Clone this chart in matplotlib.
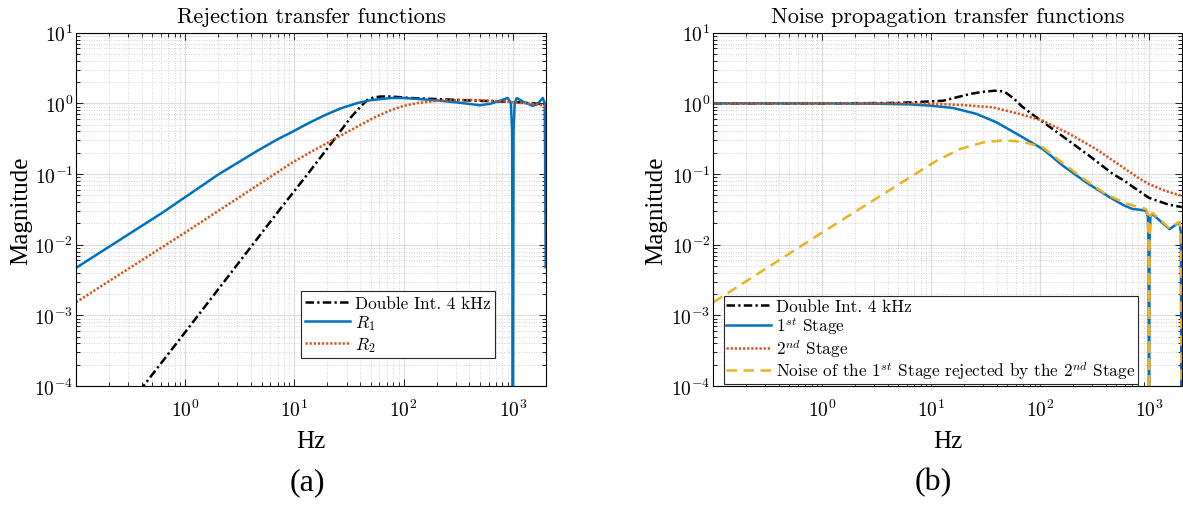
import numpy as np
import matplotlib
matplotlib.use('Agg')
import matplotlib.pyplot as plt
from matplotlib.ticker import LogLocator, NullFormatter, FixedLocator

plt.rcParams['font.family'] = 'cmr10'
plt.rcParams['mathtext.fontset'] = 'cm'
plt.rcParams['axes.formatter.use_mathtext'] = True

# ---------------- data ----------------
# (a) Rejection transfer functions
freq_dbl_a = [0.1, 1.0, 7.4, 9.3, 14.0, 23.0, 32.7, 40.0, 46.6, 53.0, 61.5, 76.0, 95.0, 116.0,
              200.0, 400.0, 1000.0, 2000.0]
mag_dbl_a = [5.9e-6, 5.8e-4, 0.032, 0.05, 0.112, 0.305, 0.63, 0.89, 1.12, 1.21, 1.25, 1.25, 1.22,
             1.19, 1.15, 1.10, 1.05, 0.97]

freq_r1 = [0.1, 0.61, 2.0, 4.5, 7.0, 9.4, 13.3, 18.6, 26.0, 37.7, 50.0, 76.0, 100.0, 177.0, 309.0,
           500.0, 627.0, 775.0, 898.0, 960.0, 985.0, 1000.0, 1015.0, 1040.0, 1086.0, 1250.0,
           1522.0, 1700.0, 1879.0, 1960.0, 2000.0]
mag_r1 = [0.0047, 0.028, 0.098, 0.21, 0.31, 0.39, 0.52, 0.67, 0.84, 1.01, 1.11, 1.19, 1.19, 1.12,
          1.03, 0.94, 0.99, 1.10, 1.19, 1.0, 0.4, 1e-6, 0.4, 1.0, 1.19, 1.05, 0.92, 1.0, 1.19, 1.0,
          0.0048]

freq_r2 = [0.1, 1.0, 1.87, 9.4, 14.1, 23.0, 37.7, 55.0, 76.0, 100.0, 133.0, 218.0, 407.0, 832.0,
           1500.0, 2000.0]
mag_r2 = [0.00153, 0.0149, 0.028, 0.143, 0.205, 0.31, 0.47, 0.64, 0.80, 0.92, 1.01, 1.10, 1.12,
          1.07, 0.98, 0.93]

# (b) Noise propagation transfer functions
freq_dbl_b = [0.1, 1.0, 4.0, 6.4, 12.9, 22.6, 30.0, 38.4, 45.0, 49.0, 58.0, 69.7, 92.5, 151.0,
              284.0, 466.0, 596.0, 710.0, 1000.0, 1500.0, 2000.0]
mag_dbl_b = [1.0, 1.0, 1.01, 1.03, 1.09, 1.355, 1.46, 1.51, 1.48, 1.40, 1.15, 0.877, 0.634, 0.368,
             0.18, 0.10, 0.08, 0.066, 0.046, 0.037, 0.034]

freq_s1 = [0.1, 1.0, 3.0, 6.4, 9.75, 15.9, 26.0, 39.7, 65.0, 106.0, 162.0, 265.0, 434.0, 596.0,
           710.0, 850.0, 940.0, 975.0, 990.0, 1000.0, 1010.0, 1030.0, 1081.0, 1250.0, 1538.0,
           1750.0, 1897.0, 1960.0, 2000.0]
mag_s1 = [1.0, 1.0, 0.99, 0.965, 0.93, 0.86, 0.71, 0.54, 0.35, 0.225, 0.131, 0.076, 0.047, 0.0356,
          0.032, 0.031, 0.030, 0.025, 0.01, 1e-6, 0.01, 0.025, 0.027, 0.022, 0.0166, 0.019, 0.0207,
          0.015, 1e-6]

freq_s2 = [0.1, 5.0, 10.0, 19.7, 37.0, 65.0, 106.0, 187.0, 327.0, 596.0, 800.0, 1000.0, 1400.0,
           2000.0]
mag_s2 = [1.0, 1.0, 0.99, 0.946, 0.877, 0.706, 0.568, 0.368, 0.225, 0.12, 0.088, 0.072, 0.058,
          0.049]

freq_rej = [0.1, 1.0, 6.4, 11.2, 18.3, 30.0, 45.7, 69.7, 106.0, 162.0, 245.0, 400.0, 596.0, 800.0,
            940.0, 975.0, 990.0, 1000.0, 1010.0, 1030.0, 1081.0, 1250.0, 1538.0, 1750.0, 1897.0,
            1960.0, 2000.0]
mag_rej = [0.00153, 0.0149, 0.09, 0.154, 0.225, 0.28, 0.30, 0.286, 0.238, 0.142, 0.088, 0.052,
           0.039, 0.034, 0.032, 0.026, 0.01, 1e-6, 0.01, 0.026, 0.028, 0.023, 0.017, 0.0195, 0.021,
           0.015, 1e-6]

titles = ['Rejection transfer functions', 'Noise propagation transfer functions']
labels_a = ['Double Int. 4 kHz', r'$R_1$', r'$R_2$']
labels_b = ['Double Int. 4 kHz', r'$1^{st}$ Stage', r'$2^{nd}$ Stage',
            r'Noise of the $1^{st}$ Stage rejected by the $2^{nd}$ Stage']
x_ticks = [1, 10, 100, 1000]

# ---------------- style ----------------
BLUE = '#0072BD'
ORANGE = '#D95319'
YELLOW = '#EDB120'
LW = 1.8
ls_dashdot = (0, (3.4, 1.3, 0.9, 1.3))
ls_dot = (0, (0.9, 0.75))
ls_dash = (0, (4.2, 2.6))

fig = plt.figure(figsize=(11.83, 5.06), dpi=100)
ax1 = fig.add_axes([0.0643, 0.2352, 0.397, 0.6982])
ax2 = fig.add_axes([0.603, 0.2352, 0.396, 0.6982])


def style_axes(ax, title):
    ax.set_xscale('log')
    ax.set_yscale('log')
    ax.set_xlim(0.1, 2000)
    ax.set_ylim(1e-4, 10)
    ax.xaxis.set_major_locator(FixedLocator(x_ticks))
    ax.xaxis.set_minor_locator(LogLocator(base=10, subs=np.arange(2, 10), numticks=100))
    ax.xaxis.set_minor_formatter(NullFormatter())
    ax.yaxis.set_major_locator(LogLocator(base=10, numticks=20))
    ax.yaxis.set_minor_locator(LogLocator(base=10, subs=np.arange(2, 10), numticks=100))
    ax.yaxis.set_minor_formatter(NullFormatter())
    ax.grid(True, which='major', color='#dedede', linewidth=0.9, linestyle='-')
    ax.grid(True, which='minor', color='#c4c4c4', linewidth=0.6, linestyle=(0, (1, 2)))
    ax.set_axisbelow(True)
    ax.tick_params(which='both', direction='in', top=True, right=True, width=0.6,
                   labelsize=14)
    ax.tick_params(which='major', length=5)
    ax.tick_params(which='minor', length=2.8)
    ax.tick_params(axis='x', which='major', pad=9)
    ax.tick_params(axis='y', which='major', pad=2)
    for sp in ax.spines.values():
        sp.set_linewidth(0.8)
        sp.set_color('black')
    ax.set_title(title, fontsize=16, pad=8)
    ax.set_xlabel('Hz', fontfamily='Liberation Serif', fontsize=18)
    ax.xaxis.label.set_va('center')
    ax.xaxis.set_label_coords(0.5, -0.155)
    ax.set_ylabel('Magnitude', fontfamily='Liberation Serif', fontsize=18)
    ax.yaxis.label.set_va('center')


style_axes(ax1, titles[0])
style_axes(ax2, titles[1])
ax1.yaxis.set_label_coords(-0.116, 0.5)
ax2.yaxis.set_label_coords(-0.1225, 0.5)

leg_kw = dict(frameon=True, fancybox=False, edgecolor='#262626', framealpha=1,
              handlelength=2.6, handletextpad=0.3, borderaxespad=0)

# (a)
h1, = ax1.plot(freq_dbl_a, mag_dbl_a, color='black', lw=LW, linestyle=ls_dashdot)
h2, = ax1.plot(freq_r1, mag_r1, color=BLUE, lw=LW, linestyle='-')
h3, = ax1.plot(freq_r2, mag_r2, color=ORANGE, lw=LW, linestyle=ls_dot)
leg1 = ax1.legend([h1, h2, h3], labels_a, loc='lower left', bbox_to_anchor=(0.479, 0.079),
                  fontsize=12.4, labelspacing=0.15, borderpad=0.25, **leg_kw)
leg1.get_frame().set_linewidth(0.8)

# (b)
g1, = ax2.plot(freq_dbl_b, mag_dbl_b, color='black', lw=LW, linestyle=ls_dashdot)
g2, = ax2.plot(freq_s1, mag_s1, color=BLUE, lw=LW, linestyle='-')
g3, = ax2.plot(freq_s2, mag_s2, color=ORANGE, lw=LW, linestyle=ls_dot)
g4, = ax2.plot(freq_rej, mag_rej, color=YELLOW, lw=LW, linestyle=ls_dash)
leg2 = ax2.legend([g1, g2, g3, g4], labels_b, loc='lower left', bbox_to_anchor=(0.022, 0.006),
                  fontsize=12.4, labelspacing=0.0, borderpad=0.15, **leg_kw)
leg2.get_frame().set_linewidth(0.8)

fig.text(0.2595, 0.0455, '(a)', ha='center', va='center', fontfamily='Liberation Serif',
         fontsize=23)
fig.text(0.789, 0.0455, '(b)', ha='center', va='center', fontfamily='Liberation Serif',
         fontsize=23)

fig.savefig('out.png', dpi=100)
